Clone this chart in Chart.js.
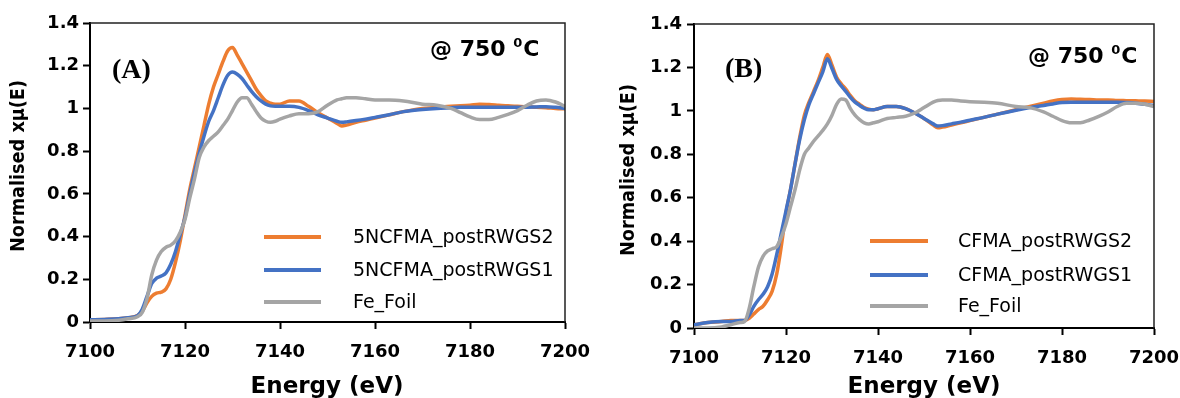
<!DOCTYPE html>
<html><head><meta charset="utf-8">
<script src="https://cdn.jsdelivr.net/npm/chart.js@4.4.1/dist/chart.umd.min.js"></script>
<style>
html,body{margin:0;padding:0;background:#fff;width:1180px;height:398px;overflow:hidden}
.wrap{position:absolute;top:0;width:590px;height:398px}
#wa{left:0}
#wb{left:590px}
canvas{display:block}
</style></head><body>
<div class="wrap" id="wa"><canvas id="ca" width="590" height="398"></canvas></div>
<div class="wrap" id="wb"><canvas id="cb" width="590" height="398"></canvas></div>
<script>
// ---------- data ----------
const energy = [7100,7103,7106,7108,7110,7111,7112,7113,7114,7115,7116,7117,7118,7119,7120,7121,7122,7123,7124,7125,7126,7127,7128,7129,7130,7131,7132,7133,7134,7135,7136,7137,7138,7139,7140,7142,7144,7146,7148,7150,7152,7153,7154,7156,7158,7160,7163,7166,7170,7173,7176,7178,7180,7182,7184,7186,7188,7190,7192,7194,7196,7198,7200];

const xTickLabels = ['7100','7120','7140','7160','7180','7200'];
const yTickLabels = ['0','0.2','0.4','0.6','0.8','1','1.2','1.4'];

const namesA = ['5NCFMA_postRWGS2','5NCFMA_postRWGS1','Fe_Foil'];
const namesB = ['CFMA_postRWGS2','CFMA_postRWGS1','Fe_Foil'];

const a_postRWGS2 = [.010,.012,.015,.020,.030,
 .050,.090,.120,.135,.140,.155,.200,.280,.380,.500,
 .620,.720,.820,.920,1.020,1.100,1.160,1.220,1.270,1.285,
 1.250,1.210,1.170,1.130,1.090,1.060,1.035,1.025,1.020,1.020,
 1.035,1.035,1.010,.980,.955,.930,.918,.922,.935,.945,.955,
 .970,.985,1.000,1.005,1.010,1.012,1.015,1.020,1.018,1.015,1.012,1.010,1.008,1.005,1.003,1.000,.998];
const a_postRWGS1 = [.010,.012,.015,.020,.030,
 .060,.120,.180,.205,.215,.230,.270,.330,.410,.490,
 .600,.700,.790,.870,.940,.990,1.050,1.110,1.155,1.170,
 1.160,1.140,1.110,1.080,1.055,1.035,1.020,1.012,1.010,1.010,
 1.010,1.005,.990,.970,.955,.940,.935,.937,.943,.950,.958,
 .970,.985,.995,1.000,1.003,1.005,1.005,1.006,1.006,1.006,1.006,1.006,1.006,1.007,1.008,1.005,1.000];
const a_feFoil = [.005,.005,.008,.015,.025,
 .045,.110,.220,.290,.330,.350,.360,.380,.420,.480,
 .580,.670,.770,.820,.850,.870,.890,.920,.950,.990,
 1.030,1.050,1.050,1.020,.985,.955,.940,.935,.940,.950,
 .965,.975,.975,.985,1.015,1.040,1.045,1.050,1.050,1.045,1.040,
 1.040,1.035,1.020,1.015,1.000,.980,.960,.948,.948,.958,.972,.990,1.015,1.035,1.040,1.030,1.010];

const b_postRWGS2 = [.015,.025,.030,.035,.035,
 .035,.045,.065,.085,.100,.130,.170,.250,.380,.530,
 .640,.760,.880,.980,1.040,1.090,1.140,1.200,1.260,1.210,
 1.155,1.125,1.100,1.070,1.045,1.030,1.015,1.008,1.005,1.010,
 1.020,1.020,1.010,.990,.965,.935,.922,.925,.935,.945,.955,
 .970,.985,1.005,1.020,1.035,1.045,1.052,1.055,1.053,1.052,1.050,1.050,1.048,1.047,1.046,1.045,1.043];
const b_postRWGS1 = [.015,.025,.030,.030,.035,
 .035,.060,.100,.130,.155,.190,.250,.340,.440,.540,
 .640,.760,.870,.960,1.030,1.080,1.130,1.180,1.240,1.195,
 1.145,1.115,1.090,1.062,1.040,1.025,1.012,1.005,1.005,1.010,
 1.020,1.020,1.010,.990,.965,.940,.930,.932,.940,.948,.957,
 .970,.985,1.003,1.015,1.025,1.032,1.038,1.040,1.040,1.040,1.040,1.040,1.040,1.038,1.035,1.030,1.025];
const b_feFoil = [.000,.000,.005,.015,.025,
 .030,.090,.190,.280,.330,.355,.365,.375,.420,.480,
 .560,.640,.730,.800,.830,.860,.885,.910,.940,.980,
 1.030,1.055,1.050,1.010,.980,.960,.945,.940,.945,.950,
 .965,.970,.975,.990,1.015,1.040,1.048,1.050,1.050,1.045,1.042,
 1.040,1.035,1.020,1.015,.995,.975,.955,.945,.945,.958,.975,.995,1.020,1.035,1.035,1.030,1.020];

const colors = ['#ED7D31','#4472C4','#A5A5A5'];

// ---------- helpers ----------
function pts(vals){ return energy.map((e,i)=>({x:e,y:vals[i]})); }

function drawFitText(ctx, text, x, y, font, align, baseline, width){
  ctx.save();
  ctx.font = font; ctx.textBaseline = baseline; ctx.fillStyle = '#000';
  const w = ctx.measureText(text).width;
  const sx = width ? width / w : 1;
  const tw = w * sx;
  let lx = x;
  if (align === 'center') lx = x - tw/2; else if (align === 'right') lx = x - tw;
  ctx.translate(lx, y); ctx.scale(sx, 1); ctx.textAlign = 'left';
  ctx.fillText(text, 0, 0);
  ctx.restore();
}

function makeChart(canvasId, cfg){
  const datasets = cfg.series.map((vals,i)=>({
    label: cfg.names[i], data: pts(vals), borderColor: colors[i], backgroundColor: colors[i],
    borderWidth: 3.5, pointRadius: 0, cubicInterpolationMode: 'monotone', fill:false,
    order: 2 - i
  }));
  const deco = {
    id: 'deco',
    afterDraw(chart){
      const ctx = chart.ctx, ca = chart.chartArea;
      ctx.save();
      ctx.strokeStyle = '#222'; ctx.lineWidth = 1.5;
      ctx.beginPath();
      ctx.moveTo(ca.left, ca.top); ctx.lineTo(ca.right, ca.top); ctx.lineTo(ca.right, ca.bottom);
      ctx.stroke();
      ctx.restore();
      cfg.names.forEach((n,i)=>{
        const y = cfg.legendY[i];
        ctx.save();
        ctx.strokeStyle = colors[i]; ctx.lineWidth = 4;
        ctx.beginPath(); ctx.moveTo(cfg.legendLine[0], y); ctx.lineTo(cfg.legendLine[1], y); ctx.stroke();
        ctx.restore();
        drawFitText(ctx, n, cfg.legendText, y+1, '19px "DejaVu Sans"', 'left', 'middle');
      });
      drawFitText(ctx, cfg.panel, cfg.panelPos[0], cfg.panelPos[1], 'bold 28px "Liberation Serif"', 'left', 'alphabetic');
      ctx.save();
      ctx.fillStyle = '#000'; ctx.textBaseline = 'alphabetic'; ctx.textAlign = 'left';
      let tx = cfg.tempPos[0]; const ty = cfg.tempPos[1];
      ctx.font = 'bold 22px "DejaVu Sans"';
      ctx.fillText('@ 750 ', tx, ty); tx += ctx.measureText('@ 750 ').width;
      ctx.font = 'bold 13px "DejaVu Sans"';
      ctx.fillText('0', tx, ty - 9); tx += ctx.measureText('0').width + 1;
      ctx.font = 'bold 22px "DejaVu Sans"';
      ctx.fillText('C', tx, ty);
      ctx.restore();
      drawFitText(ctx, 'Energy (eV)', cfg.xTitle[0], cfg.xTitle[1], 'bold 23px "DejaVu Sans"', 'center', 'alphabetic');
      ctx.save();
      ctx.translate(cfg.yTitle[0], cfg.yTitle[1]); ctx.rotate(-Math.PI/2);
      drawFitText(ctx, 'Normalised xμ(E)', 0, 0, 'bold 19px "DejaVu Sans"', 'center', 'middle', 172);
      ctx.restore();
    }
  };
  return new Chart(document.getElementById(canvasId), {
    type: 'line',
    data: { datasets },
    plugins: [deco],
    options: {
      responsive: false, animation: false, devicePixelRatio: 1,
      layout: { padding: { left: 0, right: cfg.padRight, top: cfg.padTop, bottom: 0 } },
      plugins: { legend: { display: false }, tooltip: { enabled: false } },
      scales: {
        x: {
          type: 'linear', min: 7100, max: 7200,
          ticks: { stepSize: 20, color: '#000', padding: 13, maxRotation: 0,
            font: { family: 'DejaVu Sans', weight: 'bold', size: 18 },
            callback: v => xTickLabels[Math.round((v-7100)/20)] },
          grid: { drawOnChartArea: false, drawTicks: true, tickLength: 7, tickColor: '#000', tickWidth: 2 },
          border: { display: true, color: '#000', width: 2 },
          afterFit: s => { s.height = cfg.xH; s.paddingLeft = 0; s.paddingRight = 0; }
        },
        y: {
          min: 0, max: 1.4,
          ticks: { stepSize: 0.2, color: '#000', padding: cfg.yPad,
            font: { family: 'DejaVu Sans', weight: 'bold', size: 18 },
            callback: v => yTickLabels[Math.round(v/0.2)] },
          grid: { drawOnChartArea: false, drawTicks: true, tickLength: 7, tickColor: '#000', tickWidth: 2 },
          border: { display: true, color: '#000', width: 2 },
          afterFit: s => { s.width = cfg.yW; s.paddingTop = 0; s.paddingBottom = 0; }
        }
      }
    }
  });
}

makeChart('ca', {
  names: namesA, series: [a_postRWGS2, a_postRWGS1, a_feFoil],
  padRight: 25, padTop: 23, xH: 76, yW: 90, yPad: 4,
  legendY: [237, 270, 302], legendLine: [264, 321], legendText: 353,
  panel: '(A)', panelPos: [112, 78], tempPos: [430, 56],
  xTitle: [327, 393], yTitle: [19, 166]
});
makeChart('cb', {
  names: namesB, series: [b_postRWGS2, b_postRWGS1, b_feFoil],
  padRight: 26, padTop: 24, xH: 70, yW: 104, yPad: 5,
  legendY: [241, 275, 306], legendLine: [280, 338], legendText: 368,
  panel: '(B)', panelPos: [135, 77], tempPos: [438, 63],
  xTitle: [334, 393], yTitle: [39, 170]
});
</script>
</body></html>
